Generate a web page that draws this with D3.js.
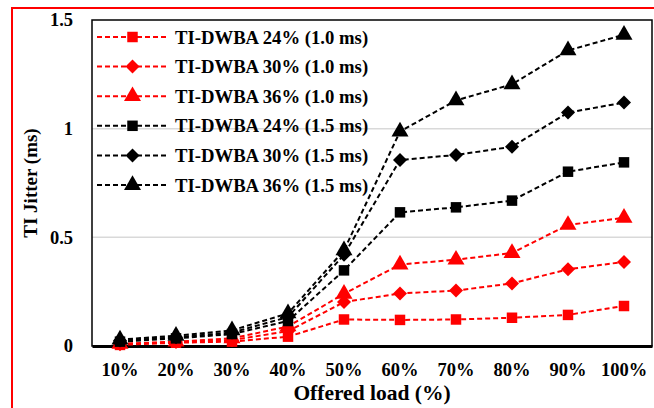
<!DOCTYPE html>
<html>
<head>
<meta charset="utf-8">
<script src="https://cdn.jsdelivr.net/npm/d3@7"></script>
<style>
  body { margin: 0; background: #fff; }
  text { font-family: "Liberation Serif", "Times New Roman", serif; font-weight: bold; fill: #000; }
</style>
</head>
<body>
<div id="chart"></div>
<script>
const categories = ["10%", "20%", "30%", "40%", "50%", "60%", "70%", "80%", "90%", "100%"];
const yTicks = [0, 0.5, 1, 1.5];

// TI jitter (ms)
const red24 = [0.005, 0.015, 0.02, 0.043, 0.122, 0.12, 0.122, 0.13, 0.143, 0.184];
const red30 = [0.008, 0.018, 0.027, 0.068, 0.202, 0.242, 0.255, 0.288, 0.353, 0.387];
const red36 = [0.01, 0.02, 0.035, 0.09, 0.24, 0.375, 0.397, 0.428, 0.557, 0.59];
const blk24 = [0.02, 0.035, 0.055, 0.115, 0.348, 0.615, 0.638, 0.669, 0.802, 0.845];
const blk30 = [0.025, 0.04, 0.062, 0.133, 0.42, 0.856, 0.879, 0.917, 1.074, 1.12];
const blk36 = [0.03, 0.047, 0.072, 0.15, 0.44, 0.987, 1.13, 1.204, 1.36, 1.432];

const series = [
  {name: "TI-DWBA 24% (1.0 ms)", values: red24, color: "#ff0000", shape: "square"},
  {name: "TI-DWBA 30% (1.0 ms)", values: red30, color: "#ff0000", shape: "diamond"},
  {name: "TI-DWBA 36% (1.0 ms)", values: red36, color: "#ff0000", shape: "triangle"},
  {name: "TI-DWBA 24% (1.5 ms)", values: blk24, color: "#000000", shape: "square"},
  {name: "TI-DWBA 30% (1.5 ms)", values: blk30, color: "#000000", shape: "diamond"},
  {name: "TI-DWBA 36% (1.5 ms)", values: blk36, color: "#000000", shape: "triangle"}
];

const width = 654, height = 408;
const margin = {top: 20, right: 2, bottom: 62, left: 92};
const pw = width - margin.left - margin.right;
const ph = height - margin.top - margin.bottom;

const svg = d3.select("#chart").append("svg")
    .attr("width", width)
    .attr("height", height);

// red frame (top + left only)
svg.append("path")
    .attr("d", `M12,${height} L12,8 L${width},8`)
    .attr("fill", "none")
    .attr("stroke", "#ff0000")
    .attr("stroke-width", 2);

const x = d3.scaleBand().domain(categories).range([0, pw]);
const y = d3.scaleLinear().domain([0, 1.5]).range([ph, 0]);

const g = svg.append("g").attr("transform", `translate(${margin.left},${margin.top})`);

// gridlines
g.selectAll("line.grid")
  .data(yTicks.filter(d => d > 0 && d < 1.5))
  .join("line")
    .attr("x1", 0).attr("x2", pw)
    .attr("y1", d => y(d)).attr("y2", d => y(d))
    .attr("stroke", "#d9d9d9")
    .attr("stroke-width", 1.5);

// plot box
g.append("rect")
    .attr("width", pw).attr("height", ph)
    .attr("fill", "none")
    .attr("stroke", "#000")
    .attr("stroke-width", 1.5);

// y axis labels
const yAxis = g.append("g")
    .call(d3.axisLeft(y).tickValues(yTicks).tickFormat(d3.format("")).tickSize(0).tickPadding(19));
yAxis.select(".domain").remove();
yAxis.selectAll("text").style("font-size", "18.5px").attr("fill", "#000");

// x axis
const xAxis = g.append("g")
    .attr("transform", `translate(0,${ph})`)
    .call(d3.axisBottom(x).tickSize(0).tickPadding(17));
xAxis.select(".domain").attr("stroke", "#000").attr("stroke-width", 3);
xAxis.selectAll("text").style("font-size", "18.5px").attr("fill", "#000");

// axis titles
svg.append("text")
    .attr("x", margin.left + pw / 2)
    .attr("y", 400)
    .attr("text-anchor", "middle")
    .style("font-size", "21.5px")
    .text("Offered load (%)");

svg.append("text")
    .attr("transform", `translate(37,${margin.top + 163}) rotate(-90)`)
    .attr("text-anchor", "middle")
    .style("font-size", "19px")
    .text("TI Jitter (ms)");

const shapes = {
  square: d3.symbol().type(d3.symbolSquare).size(110),
  diamond: d3.symbol().type(d3.symbolDiamond2).size(125),
  triangle: d3.symbol().type(d3.symbolTriangle).size(125)
};

const line = d3.line()
    .x((d, i) => x(categories[i]) + x.bandwidth() / 2)
    .y(d => y(d));

series.forEach(s => {
  g.append("path")
      .datum(s.values)
      .attr("d", line)
      .attr("fill", "none")
      .attr("stroke", s.color)
      .attr("stroke-width", 2)
      .attr("stroke-dasharray", "5,3");
  g.selectAll(null)
    .data(s.values)
    .join("path")
      .attr("transform", (d, i) => `translate(${x(categories[i]) + x.bandwidth() / 2},${y(d)})`)
      .attr("d", shapes[s.shape])
      .attr("fill", s.color);
});

// legend
const legend = g.append("g").attr("transform", "translate(5,17)");
const row = legend.selectAll("g")
  .data(series)
  .join("g")
    .attr("transform", (d, i) => `translate(0,${i * 29.6})`);
row.append("line")
    .attr("x1", 0).attr("x2", 70)
    .attr("stroke", d => d.color)
    .attr("stroke-width", 2)
    .attr("stroke-dasharray", "5,3");
row.append("path")
    .attr("transform", "translate(35.5,0)")
    .attr("d", d => shapes[d.shape]())
    .attr("fill", d => d.color);
row.append("text")
    .attr("x", 78)
    .attr("dy", "0.35em")
    .style("font-size", "18.7px")
    .text(d => d.name);
</script>
</body>
</html>
